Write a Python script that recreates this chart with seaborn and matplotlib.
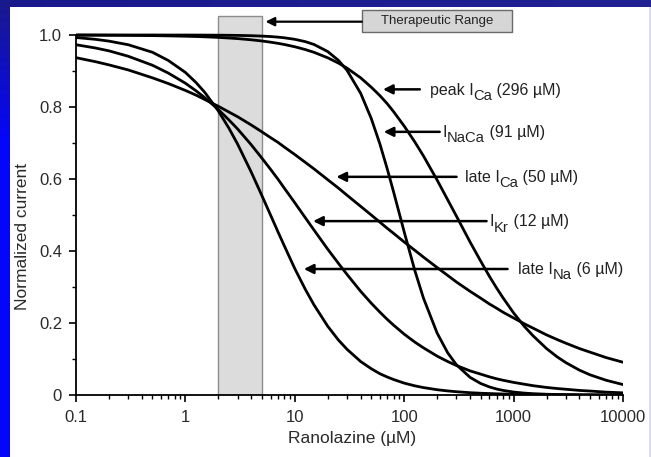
import numpy as np
import pandas as pd
import matplotlib
matplotlib.use("Agg")
import matplotlib.pyplot as plt
import seaborn as sns
from matplotlib.patches import Rectangle
from matplotlib.ticker import FixedLocator, LogLocator, NullFormatter
from matplotlib.transforms import offset_copy

# Ranolazine concentration (uM) at which each normalized current is given
conc = [0.1, 0.15, 0.2, 0.3, 0.5, 0.7,
        1, 1.25, 1.5, 2, 2.5, 3, 4, 5, 6, 7, 8,
        10, 12.5, 15, 20, 25, 30, 40, 50, 60, 70, 80,
        100, 125, 150, 200, 250, 300, 400, 500, 600, 700, 800,
        1000, 1250, 1500, 2000, 2500, 3000, 4000, 5000, 7000, 10000]

peak_ica = [0.9997, 0.9995, 0.9993, 0.999, 0.9983, 0.9976,
            0.9966, 0.9958, 0.995, 0.9933, 0.9916, 0.990, 0.9867, 0.9834, 0.9801,
            0.9769, 0.9737,
            0.9673, 0.9595, 0.9518, 0.9367, 0.9221, 0.908, 0.881, 0.855, 0.8315,
            0.809, 0.787,
            0.747, 0.703, 0.664, 0.597, 0.542, 0.497, 0.425, 0.372, 0.330, 0.297,
            0.270,
            0.228, 0.191, 0.165, 0.129, 0.106, 0.090, 0.069, 0.056, 0.041, 0.029]
inaca = [1.0, 1.0, 1.0, 1.0, 1.0, 0.9999,
         0.9999, 0.9998, 0.9997, 0.9995, 0.9992, 0.9989, 0.9981, 0.997, 0.9957,
         0.9941, 0.9923,
         0.988, 0.9815, 0.9736, 0.954, 0.9298, 0.902, 0.838, 0.768, 0.697, 0.628,
         0.564,
         0.453, 0.346, 0.269, 0.172, 0.117, 0.084, 0.049, 0.032, 0.0225, 0.0166,
         0.0128,
         0.0082, 0.0053, 0.0037, 0.0021, 0.0013, 0.0009, 0.0005, 0.0003, 0.0002,
         0.0001]
late_ica = [0.937, 0.926, 0.917, 0.903, 0.881, 0.865,
            0.846, 0.833, 0.821, 0.802, 0.786, 0.773, 0.750, 0.731, 0.715, 0.702,
            0.689,
            0.668, 0.646, 0.628, 0.598, 0.575, 0.555, 0.524, 0.500, 0.480, 0.463,
            0.449,
            0.425, 0.402, 0.383, 0.354, 0.332, 0.314, 0.288, 0.269, 0.253, 0.241,
            0.230,
            0.214, 0.198, 0.186, 0.167, 0.154, 0.144, 0.129, 0.119, 0.104, 0.091]
ikr = [0.973, 0.964, 0.956, 0.941, 0.916, 0.894,
       0.866, 0.845, 0.826, 0.793, 0.764, 0.739, 0.695, 0.658, 0.627, 0.600, 0.575,
       0.534, 0.492, 0.458, 0.405, 0.366, 0.335, 0.288, 0.255, 0.230, 0.210, 0.194,
       0.169, 0.147, 0.131, 0.108, 0.093, 0.082, 0.067, 0.058, 0.0505, 0.045, 0.041,
       0.035, 0.030, 0.026, 0.021, 0.018, 0.016, 0.0127, 0.011, 0.008, 0.006]
late_ina = [0.993, 0.988, 0.983, 0.973, 0.952, 0.929,
            0.896, 0.868, 0.841, 0.789, 0.741, 0.697, 0.619, 0.554, 0.500, 0.454,
            0.415,
            0.351, 0.293, 0.250, 0.191, 0.153, 0.127, 0.093, 0.073, 0.059, 0.050,
            0.043,
            0.033, 0.0255, 0.0206, 0.0147, 0.0113, 0.0091, 0.0064, 0.0049, 0.0040,
            0.0033, 0.0028,
            0.0022, 0.0016, 0.0013, 0.0009, 0.0007, 0.0006, 0.0004, 0.0003, 0.0002,
            0.0001]

channels = ["peak ICa", "INaCa", "late ICa", "IKr", "late INa"]
# label text split into (prefix, subscript, suffix)
label_parts = [("peak I", "Ca", " (296 µM)"),
               ("I", "NaCa", " (91 µM)"),
               ("late I", "Ca", " (50 µM)"),
               ("I", "Kr", " (12 µM)"),
               ("late I", "Na", " (6 µM)")]
# arrow tip (conc, current), arrow tail conc, label conc
arrow_tips = [(64, 0.849), (65, 0.731), (24, 0.606), (14.7, 0.483), (12.1, 0.35)]
arrow_tails = [139, 211, 301, 566, 881]
label_x = [171, 225, 357, 604, 1089]

therapeutic_lo, therapeutic_hi = 2.0, 5.0
xticks = [0.1, 1, 10, 100, 1000, 10000]
xticklabels = ["0.1", "1", "10", "100", "1000", "10000"]
yticks = [0, 0.2, 0.4, 0.6, 0.8, 1.0]
yticklabels = ["0", "0.2", "0.4", "0.6", "0.8", "1.0"]

sns.set_style("ticks")
plt.rcParams["font.family"] = ["Liberation Sans", "DejaVu Sans"]

W, H = 651, 457
fig = plt.figure(figsize=(W / 100, H / 100), dpi=100)

# slide-style frame: navy band on top, blue strip on the left, white panel
bg = fig.add_axes([0, 0, 1, 1], zorder=-10)
img = np.ones((H, W, 3))
rows = np.arange(H)[:, None]
cols = np.arange(W)[None, :]
navy = np.array([0.10, 0.10, 0.55])
blue = np.array([0.02, 0.02, 0.98])
t_left = np.clip(rows / 140.0, 0, 1)[..., None]
left_col = navy * (1 - t_left) + blue * t_left
img[:, :10, :] = np.broadcast_to(left_col, (H, 10, 3))
t_top = np.clip(cols / W, 0, 1)[..., None]
top_col = navy * (1 - 0.3 * t_top) + np.array([0.2, 0.2, 0.65]) * 0.3 * t_top
img[:7, :, :] = np.broadcast_to(top_col, (7, W, 3))
img[7:, W - 2:, :] = np.array([0.86, 0.86, 0.98])
bg.imshow(img, aspect="auto", extent=[0, 1, 0, 1], interpolation="bilinear")
bg.axis("off")

ax = fig.add_axes([76 / W, 1 - 395 / H, (623 - 76) / W, (395 - 8) / H])
ax.set_facecolor("none")

df = pd.DataFrame({
    "conc": conc * 5,
    "current": peak_ica + inaca + late_ica + ikr + late_ina,
    "channel": [c for c in channels for _ in conc],
})
sns.lineplot(data=df, x="conc", y="current", hue="channel", hue_order=channels,
             palette={c: "black" for c in channels}, legend=False,
             estimator=None, errorbar=None, linewidth=2.0, ax=ax, zorder=3)

ax.set_xscale("log")
ax.set_xlim(0.1, 10000)
ax.set_ylim(0, 1.075)

ax.add_patch(Rectangle((therapeutic_lo, 0), therapeutic_hi - therapeutic_lo, 1.053,
                       facecolor="#dcdcdc", edgecolor="#8c8c8c", lw=1.0, zorder=1))

# therapeutic range call-out box
ax.add_patch(Rectangle((41, 1.008), 959 - 41, 0.061, facecolor="#d6d6d6",
                       edgecolor="#6a6a6a", lw=1.0, zorder=4, clip_on=False))
ax.text(np.sqrt(41 * 959), 1.0385, "Therapeutic Range", ha="center", va="center",
        fontsize=9.5, color="#222222", zorder=5)
ax.annotate("", xy=(5.4, 1.037), xytext=(41, 1.037),
            arrowprops=dict(arrowstyle="-|>", color="black", lw=1.6,
                            mutation_scale=13, shrinkA=0, shrinkB=0), zorder=5)

renderer = fig.canvas.get_renderer()
fs = 11.5
for (tx, ty), tail, lx, parts in zip(arrow_tips, arrow_tails, label_x, label_parts):
    ax.annotate("", xy=(tx, ty), xytext=(tail, ty),
                arrowprops=dict(arrowstyle="-|>", color="black", lw=1.8,
                                mutation_scale=14, shrinkA=0, shrinkB=0), zorder=5)
    dx = 0.0
    base = -0.33 * fs
    for text, size, dy in ((parts[0], fs, base), (parts[1], fs * 0.92, base - 0.32 * fs),
                           (parts[2], fs, base)):
        tr = offset_copy(ax.transData, fig=fig, x=dx, y=dy, units="points")
        t = ax.text(lx, ty, text, transform=tr, ha="left", va="baseline",
                    fontsize=size, color="#222222", zorder=5)
        dx += t.get_window_extent(renderer).width * 72.0 / fig.dpi

for side in ("top", "right"):
    ax.spines[side].set_visible(False)
for side in ("left", "bottom"):
    ax.spines[side].set_linewidth(1.3)
    ax.spines[side].set_color("black")
ax.spines["left"].set_bounds(0, 1.0)

ax.xaxis.set_major_locator(FixedLocator(xticks))
ax.set_xticklabels(xticklabels)
ax.xaxis.set_minor_locator(LogLocator(base=10, subs=np.arange(2, 10)))
ax.xaxis.set_minor_formatter(NullFormatter())
ax.set_yticks(yticks)
ax.set_yticklabels(yticklabels)
ax.yaxis.set_minor_locator(FixedLocator([0.1, 0.3, 0.5, 0.7, 0.9]))
ax.tick_params(which="major", direction="out", length=5, width=1.2, color="black",
               labelsize=12, labelcolor="#2a2a2a")
ax.tick_params(axis="x", which="major", pad=6)
ax.tick_params(axis="y", which="major", pad=5)
ax.tick_params(which="minor", direction="out", length=3, width=1.0, color="black")
ax.set_xlabel("")
ax.set_ylabel("")

fig.text(352 / W, 1 - 438 / H, "Ranolazine (µM)", ha="center", va="center",
         fontsize=12.5, color="#2a2a2a")
fig.text(23 / W, 1 - 236 / H, "Normalized current", ha="center", va="center",
         rotation=90, fontsize=12.5, color="#2a2a2a")

fig.savefig("out.png", dpi=100)
